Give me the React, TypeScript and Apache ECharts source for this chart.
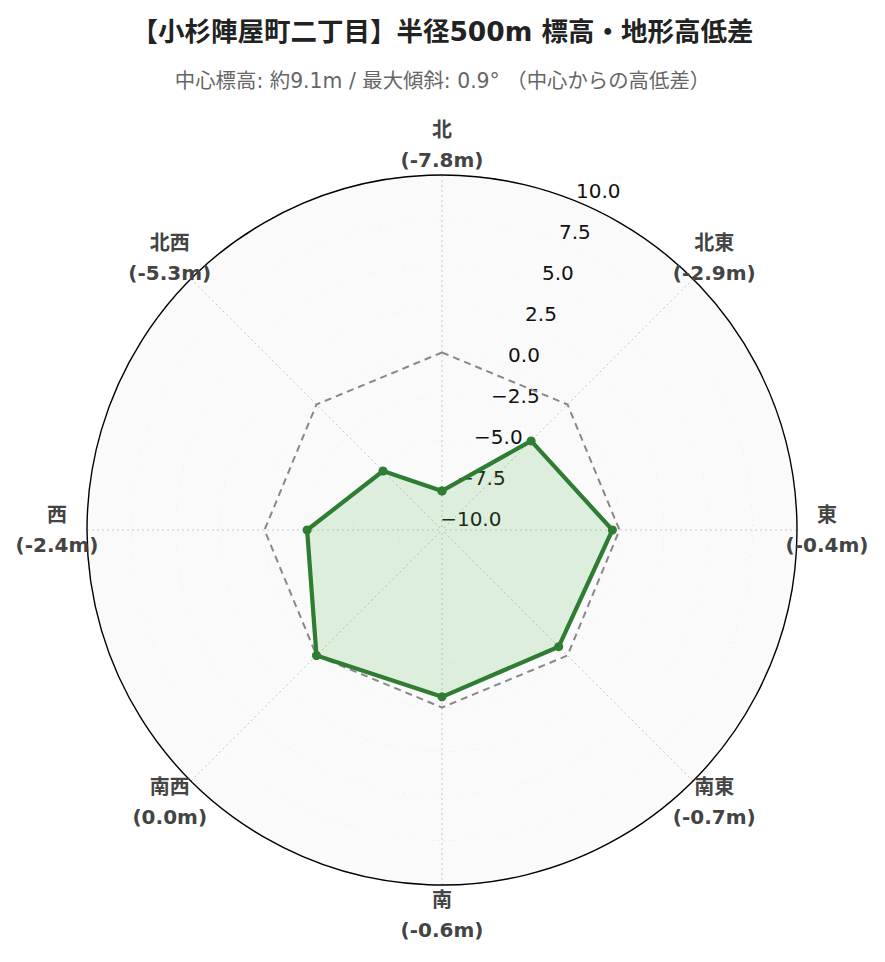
import React, { useEffect, useRef } from "react";
import * as echarts from "echarts";

const titleText = "【小杉陣屋町二丁目】半径500m 標高・地形高低差";
const subtitleText = "中心標高: 約9.1m / 最大傾斜: 0.9° （中心からの高低差）";
const directions = ["北", "北東", "東", "南東", "南", "南西", "西", "北西"];
const heightDiffs = [-7.8, -2.9, -0.4, -0.7, -0.6, 0.0, -2.4, -5.3];
const referenceLevel = [0, 0, 0, 0, 0, 0, 0, 0];
const directionAngles = [0, 45, 90, 135, 180, 225, 270, 315];
const radiusMin = -10;
const radiusMax = 10;
const radiusStep = 2.5;

const closeLoop = (vals: number[]) => {
  const pts = vals.map((v, i) => [v, directionAngles[i]]);
  pts.push([vals[0], 360]);
  return pts;
};

const fmtNum = (v: number) => v.toFixed(1).replace("-", "\u2212");

export default function App() {
  const ref = useRef<HTMLDivElement>(null);
  useEffect(() => {
    if (!ref.current) return;
    const chart = echarts.init(ref.current, undefined, { renderer: "svg" });
    const baseFont = "'DejaVu Sans', 'Noto Sans CJK JP', sans-serif";
    chart.setOption({
      animation: false,
      backgroundColor: "#ffffff",
      title: [
        {
          text: titleText,
          left: "center",
          top: 13,
          textStyle: { fontFamily: baseFont, fontSize: 26.5, fontWeight: "bold", color: "#222" },
        },
        {
          text: subtitleText,
          left: "center",
          top: 66,
          textStyle: { fontFamily: baseFont, fontSize: 20.4, fontWeight: "normal", color: "#666" },
        },
      ],
      polar: [
        { center: [442, 530], radius: 355 },
        { center: [442, 530], radius: 355 },
        { center: [442, 530], radius: 385 },
      ],
      angleAxis: [
        {
          polarIndex: 0,
          type: "value",
          min: 0,
          max: 360,
          interval: 45,
          startAngle: 90,
          clockwise: true,
          axisLine: { show: true, lineStyle: { color: "#000", width: 1.4 } },
          axisTick: { show: false },
          splitLine: { show: true, lineStyle: { color: "#c8c8c8", type: [2, 3], width: 1 } },
          axisLabel: { show: false },
        },
        {
          polarIndex: 1,
          type: "value",
          min: 0,
          max: 360,
          startAngle: 67.5,
          show: false,
        },
        {
          polarIndex: 2,
          type: "value",
          min: 0,
          max: 360,
          startAngle: 90,
          clockwise: true,
          show: false,
        },
      ],
      radiusAxis: [
        {
          polarIndex: 0,
          type: "value",
          min: radiusMin,
          max: radiusMax,
          interval: radiusStep,
          axisLine: { show: false },
          axisTick: { show: false },
          axisLabel: { show: false },
          splitLine: { show: true, lineStyle: { color: "#c8c8c8", type: [2, 3], width: 1 } },
          splitArea: { show: true, areaStyle: { color: ["#fafafa", "#fafafa"] } },
        },
        {
          polarIndex: 1,
          type: "value",
          min: radiusMin,
          max: radiusMax,
          interval: radiusStep,
          axisLine: { show: false },
          axisTick: { show: false },
          splitLine: { show: false },
          axisLabel: {
            show: true,
            showMinLabel: true,
            showMaxLabel: true,
            margin: 2,
            align: "left",
            verticalAlign: "bottom",
            fontFamily: baseFont,
            fontSize: 20,
            color: "#111",
            formatter: (v: number) => fmtNum(v),
          },
        },
        {
          polarIndex: 2,
          type: "value",
          min: 0,
          max: 1,
          show: false,
        },
      ],
      series: [
        {
          type: "line",
          coordinateSystem: "polar",
          polarIndex: 0,
          data: closeLoop(referenceLevel),
          symbol: "none",
          lineStyle: { color: "#888", width: 2, type: [7, 5] },
          z: 2,
        },
        {
          type: "line",
          coordinateSystem: "polar",
          polarIndex: 0,
          data: closeLoop(heightDiffs),
          symbol: "circle",
          symbolSize: 9,
          itemStyle: { color: "#2e7d32" },
          lineStyle: { color: "#2e7d32", width: 4.2 },
          areaStyle: { color: "rgba(76,175,80,0.17)", origin: "start", opacity: 1 },
          z: 3,
        },
        {
          type: "scatter",
          coordinateSystem: "polar",
          polarIndex: 2,
          data: directionAngles.map((a) => [1, a]),
          symbolSize: 0.1,
          itemStyle: { color: "#444", opacity: 0 },
          silent: true,
          label: {
            show: true,
            position: "inside",
            align: "center",
            verticalAlign: "middle",
            fontFamily: baseFont,
            fontSize: 20,
            fontWeight: "bold",
            color: "#444",
            opacity: 1,
            textBorderWidth: 0,
            textBorderColor: "transparent",
            lineHeight: 30,
            formatter: (p: any) => `${directions[p.dataIndex]}\n(${heightDiffs[p.dataIndex].toFixed(1)}m)`,
          },
          z: 5,
        },
      ],
    });
    return () => chart.dispose();
  }, []);
  return <div ref={ref} style={{ position: "absolute", left: 0, top: 0, width: 885, height: 962 }} />;
}
